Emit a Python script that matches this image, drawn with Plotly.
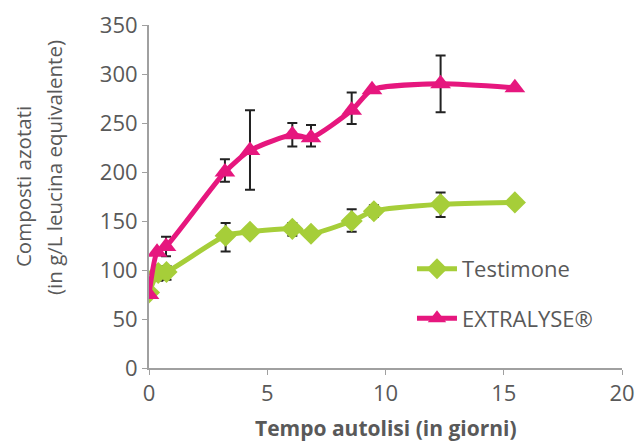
import plotly.graph_objects as go

# Data
x_test = [0, 0.39, 0.74, 3.24, 4.27, 6.06, 6.85, 8.57, 9.51, 12.33, 15.47]
y_test = [77, 97, 98, 135, 139, 142, 137, 150, 160, 167, 169]
err_test_plus = [0, 6, 6, 13, 0, 6, 0, 12, 6, 12, 0]
err_test_minus = [0, 8, 8, 16, 0, 7, 0, 11, 6, 13, 0]

x_ext = [0, 0.34, 0.72, 3.21, 4.27, 6.06, 6.85, 8.57, 9.43, 12.33, 15.47]
y_ext = [75, 118, 124, 200, 222, 238, 235, 263, 284, 290, 286]
err_ext_plus = [0, 0, 10, 13, 41, 12, 13, 18, 0, 29, 0]
err_ext_minus = [0, 0, 10, 10, 40, 12, 9, 14, 0, 29, 0]

x_ticks = [0, 5, 10, 15, 20]
y_ticks = [0, 50, 100, 150, 200, 250, 300, 350]

green = "#A6CE39"
pink = "#E6177E"
txt = "#595959"
axis_col = "#a0a0a0"

fig = go.Figure()
fig.add_trace(go.Scatter(
    x=x_test, y=y_test, name="Testimone", mode="lines+markers", legendgroup="a",
    line=dict(color=green, width=5, shape="spline", smoothing=0.6),
    marker=dict(symbol="diamond", size=17, color=green),
    error_y=dict(type="data", symmetric=False, array=err_test_plus,
                 arrayminus=err_test_minus, color="#222222", thickness=2, width=5),
))
fig.add_trace(go.Scatter(
    x=x_ext, y=y_ext, name="EXTRALYSE®", mode="lines+markers", legendgroup="b",
    line=dict(color=pink, width=5, shape="spline", smoothing=0.6),
    marker=dict(symbol="triangle-up", size=18, color=pink),
    error_y=dict(type="data", symmetric=False, array=err_ext_plus,
                 arrayminus=err_ext_minus, color="#222222", thickness=2, width=5),
))

fig.update_layout(
    width=638, height=443,
    margin=dict(l=149, r=16, t=25, b=75),
    paper_bgcolor="white", plot_bgcolor="white",
    font=dict(family="Open Sans", color=txt, size=22),
    legend=dict(x=0.556, y=0.35, xanchor="left", yanchor="top",
                font=dict(size=22, color=txt), itemwidth=40,
                tracegroupgap=18, bgcolor="rgba(0,0,0,0)"),
    showlegend=True,
    annotations=[
        dict(text="Composti azotati", xref="paper", yref="paper",
             x=-0.266, y=0.528, xanchor="center", yanchor="middle", textangle=-90,
             showarrow=False, font=dict(size=20.5, color=txt)),
        dict(text="(in g/L leucina equivalente)", xref="paper", yref="paper",
             x=-0.201, y=0.586, xanchor="center", yanchor="middle", textangle=-90,
             showarrow=False, font=dict(size=20.5, color=txt)),
        dict(text="<b>Tempo autolisi (in giorni)</b>", xref="paper", yref="paper",
             x=0.5, y=-0.175, xanchor="center", yanchor="middle",
             showarrow=False, font=dict(size=21, color=txt)),
    ],
)
fig.update_xaxes(
    range=[0, 20], tickvals=x_ticks, showgrid=False, zeroline=False, automargin=False,
    showline=True, linecolor=axis_col, linewidth=2,
    ticks="outside", ticklen=5, tickcolor=axis_col, tickwidth=1,
    tickfont=dict(size=22, color=txt),
)
fig.update_yaxes(
    range=[0, 350], tickvals=y_ticks, showgrid=False, zeroline=False, automargin=False,
    showline=True, linecolor=axis_col, linewidth=2,
    ticks="outside", ticklen=5, tickcolor=axis_col, tickwidth=1,
    tickfont=dict(size=22, color=txt),
)

fig.write_html("out.html", config={"displayModeBar": False},
               post_script="document.body.style.margin='0';")
